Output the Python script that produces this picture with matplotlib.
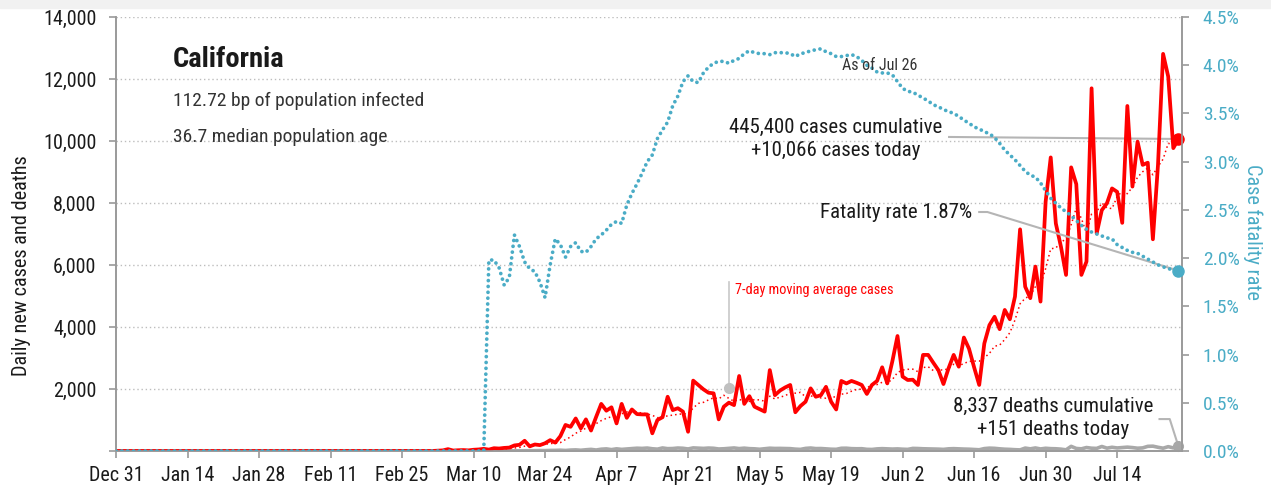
import pandas as pd
import matplotlib
matplotlib.use('Agg')
import matplotlib.pyplot as plt
from matplotlib import font_manager
from matplotlib.patches import Rectangle

# ---- data ----
start = pd.Timestamp('2019-12-31')
first_case_day = pd.Timestamp('2020-03-01')
first_cfr_day = pd.Timestamp('2020-03-13')

# daily new cases, Mar 1 .. Jul 26
cases_mar1 = [
    0, 2, 10, 20, 60, 15, 25, 30, 20, 40,
    50, 70, 45, 90, 80, 100, 110, 180, 200, 330,
    150, 210, 190, 250, 350, 270, 480, 840, 780, 1050,
    730, 1020, 660, 1100, 1520, 1300, 1410, 890, 1520, 1070,
    1340, 1190, 1180, 1180, 570, 1000, 1090, 1750, 1320, 1380,
    1270, 620, 2270, 2130, 1990, 1880, 1860, 1020, 1430, 1560,
    1480, 2420, 1520, 1770, 1430, 1350, 1270, 2610, 1800, 1950,
    2050, 2130, 1250, 1450, 1590, 2020, 1750, 1800, 2070, 1590,
    1340, 2260, 2180, 2260, 2200, 2130, 1840, 2130, 2260, 2700,
    2180, 2900, 3710, 2400, 2290, 2300, 2130, 3100, 3100, 2850,
    2610, 2160, 2670, 3100, 2720, 3660, 3300, 2700, 2130, 3470,
    4060, 4330, 3930, 4550, 4250, 4980, 7150, 5300, 4930, 5950,
    4820, 8040, 9470, 7340, 6590, 5680, 9150, 8610, 5680, 6110,
    11700, 7020, 7770, 7990, 8470, 8360, 7360, 11130, 8530, 9980,
    9230, 9300, 6830, 9230, 12810, 12080, 9770, 10066,
]

# daily new deaths, Mar 1 .. Jul 26
deaths_mar1 = [
    0, 0, 0, 1, 0, 0, 0, 0, 1, 1,
    1, 2, 1, 2, 2, 3, 4, 3, 5, 8,
    5, 10, 14, 12, 18, 20, 26, 17, 30, 36,
    24, 40, 52, 32, 58, 68, 45, 70, 52, 66,
    78, 90, 84, 95, 72, 60, 98, 76, 80, 96,
    88, 66, 100, 92, 84, 95, 88, 65, 72, 86,
    98, 78, 92, 76, 70, 56, 74, 90, 82, 84,
    80, 76, 60, 52, 84, 96, 78, 80, 70, 58,
    54, 88, 90, 76, 72, 74, 54, 50, 68, 76,
    70, 62, 68, 58, 52, 84, 80, 72, 68, 66,
    60, 52, 70, 76, 68, 62, 58, 50, 40, 78,
    92, 86, 70, 58, 52, 42, 36, 94, 70, 98,
    66, 88, 76, 72, 60, 38, 150, 82, 70, 112,
    90, 84, 146, 92, 120, 98, 112, 124, 110, 90,
    100, 150, 156, 120, 90, 140, 100, 151,
]

# case fatality rate (%), Mar 13 .. Jul 26
cfr_mar13 = [
    1.98, 1.98, 1.90, 1.72, 1.80, 2.24, 2.12, 1.96,
    1.89, 1.86, 1.75, 1.59, 1.93, 2.20, 2.14, 2.01, 2.12, 2.16,
    2.07, 2.06, 2.12, 2.20, 2.24, 2.29, 2.35, 2.38, 2.36, 2.55,
    2.67, 2.77, 2.88, 3.00, 3.07, 3.24, 3.33, 3.41, 3.58, 3.68,
    3.83, 3.89, 3.83, 3.82, 3.92, 3.98, 4.02, 4.04, 4.04, 4.02,
    4.05, 4.07, 4.12, 4.15, 4.13, 4.12, 4.12, 4.11, 4.13, 4.13,
    4.13, 4.12, 4.09, 4.12, 4.13, 4.15, 4.16, 4.17, 4.14, 4.12,
    4.09, 4.09, 4.10, 4.11, 4.09, 4.05, 4.00, 3.97, 3.93, 3.92,
    3.92, 3.90, 3.83, 3.76, 3.73, 3.72, 3.69, 3.66, 3.63, 3.59,
    3.57, 3.54, 3.52, 3.50, 3.47, 3.43, 3.40, 3.36, 3.34, 3.31,
    3.29, 3.25, 3.19, 3.12, 3.07, 3.02, 2.96, 2.90, 2.86, 2.84,
    2.78, 2.70, 2.62, 2.57, 2.52, 2.48, 2.44, 2.39, 2.34, 2.30,
    2.27, 2.25, 2.23, 2.21, 2.20, 2.14, 2.11, 2.08, 2.06, 2.05,
    2.02, 1.99, 1.96, 1.93, 1.91, 1.89, 1.88, 1.87,
]

cum_cases = 445400
cum_deaths = 8337
population_bp = 112.72
median_age = 36.7

# ---- font: prefer a condensed face ----
def pick_font():
    entries = font_manager.fontManager.ttflist
    names = {f.name for f in entries}
    for nm in ['Roboto Condensed', 'Liberation Sans Narrow', 'Open Sans Condensed']:
        if nm in names:
            return nm, 'normal'
    for nm in ['Noto Sans', 'Open Sans', 'DejaVu Sans', 'Roboto']:
        for f in entries:
            if f.name == nm and 'condensed' in str(f.stretch):
                return nm, f.stretch
    return 'Roboto', 'normal'

FONT, STRETCH = pick_font()
plt.rcParams['font.family'] = [FONT, 'DejaVu Sans']
plt.rcParams['font.stretch'] = STRETCH

# ---- build series ----
dates = pd.date_range(start, '2020-07-26', freq='D')
cases = pd.Series(0.0, index=dates)
cases[first_case_day:] = cases_mar1
deaths = pd.Series(0.0, index=dates)
deaths[first_case_day:] = deaths_mar1
cfr = pd.Series(0.0, index=dates)
cfr[first_cfr_day:] = cfr_mar13
ma7 = cases.rolling(7, min_periods=1).mean()

RED = '#ff0000'
TEAL = '#4aacc6'
GRAY = '#a8a8a8'
AXC = '#9a9a9a'
TXT = '#1a1a1a'

W, H = 1271, 491
fig = plt.figure(figsize=(W / 100, H / 100), dpi=100)
fig.patches.append(Rectangle((0, 1 - 8 / H), 1, 8 / H, transform=fig.transFigure,
                             color='#f1f1f1', zorder=0))
ax = fig.add_axes([116 / W, 1 - 451 / H, (1182 - 116) / W, (451 - 17) / H])
ax2 = ax.twinx()

def px(x, y):
    return x / W, 1 - y / H

# grid
ax.set_ylim(0, 14000)
ax.set_yticks(range(0, 14001, 2000))
ax.yaxis.grid(True, linestyle=(0, (1, 2)), color='#bdbdbd', lw=1)
ax.set_axisbelow(True)

# lines
ax.plot(dates, deaths, color=GRAY, lw=2.6, solid_capstyle='round', zorder=3)
ax.plot(dates, ma7, color=RED, lw=1.1, linestyle=(0, (1, 2)), zorder=4)
ax.plot(dates, cases, color=RED, lw=2.7, solid_joinstyle='round', zorder=5)
ax2.plot(dates, cfr, color=TEAL, lw=2.7, linestyle=(0, (0.01, 1.55)),
         dash_capstyle='round', zorder=4)

# end markers
ax.plot(dates[-1], cases.iloc[-1], 'o', color=RED, ms=8, zorder=6, clip_on=False)
ax.plot(dates[-1], deaths.iloc[-1], 'o', color=GRAY, ms=7, zorder=6, clip_on=False)
ax2.plot(dates[-1], cfr.iloc[-1], 'o', color=TEAL, ms=8, zorder=6, clip_on=False)

# x axis
xmax = start + pd.Timedelta(days=208.7)
ax.set_xlim(start, xmax)
ticks = pd.date_range(start, '2020-07-26', freq='14D')
ax.set_xticks(ticks)
ax.set_xticklabels([f'{d:%b} {d.day}' for d in ticks])

ax2.set_ylim(0, 4.5)
ax2.set_yticks([i * 0.5 for i in range(10)])
ax2.set_yticklabels([f'{i * 0.5:.1f}%' for i in range(10)])

for a in (ax, ax2):
    a.spines['top'].set_visible(False)
    for s in ['left', 'right', 'bottom']:
        a.spines[s].set_color(AXC)
        a.spines[s].set_linewidth(1.2)
ax.tick_params(axis='both', colors=AXC, width=1.2, length=5, labelsize=14.5, labelcolor=TXT)
ax.tick_params(axis='x', pad=6)
ax.tick_params(axis='y', pad=9)
ax2.tick_params(axis='y', colors=AXC, width=1.2, length=5, labelsize=14, labelcolor=TEAL, pad=10)
ax.yaxis.set_major_formatter(plt.FuncFormatter(lambda v, p: f'{int(v):,}' if v else ''))

ax.set_ylabel('Daily new cases and deaths', fontsize=14.6, color=TXT)
ax.yaxis.set_label_coords(-0.080, 0.426)
ax2.set_ylabel('Case fatality rate', fontsize=14.6, color=TEAL, rotation=270, va='center')
ax2.yaxis.set_label_coords(1.066, 0.505)

# titles
fig.text(*px(173, 60), 'California', fontsize=20.5, fontweight='bold', color=TXT,
         va='center', ha='left')
fig.text(*px(173, 101), f'{population_bp} bp of population infected', fontsize=14,
         color='#333333', va='center', ha='left')
fig.text(*px(173, 137), f'{median_age} median population age', fontsize=14,
         color='#333333', va='center', ha='left')
fig.text(*px(880, 66), f'As of {dates[-1]:%b} {dates[-1].day}', fontsize=11.5,
         color='#333333', va='center', ha='center')

# cases annotation
fig.text(*px(836, 139), f'{cum_cases:,} cases cumulative\n+{int(cases.iloc[-1]):,} cases today',
         fontsize=15, color=TXT, va='center', ha='center', linespacing=1.25)
ax.plot([start + pd.Timedelta(days=163.1), dates[-1]], [10130, cases.iloc[-1]],
        color='#b5b5b5', lw=1.5, zorder=2)

# fatality annotation
fig.text(*px(896, 213), f'Fatality rate {cfr.iloc[-1]:.2f}%', fontsize=15, color=TXT,
         va='center', ha='center')
ax2.plot([start + pd.Timedelta(days=169), start + pd.Timedelta(days=170.6), dates[-1]],
         [2.478, 2.478, cfr.iloc[-1]], color='#b5b5b5', lw=1.5, zorder=3)

# deaths annotation
fig.text(*px(1053, 418), f'{cum_deaths:,} deaths cumulative\n+{int(deaths.iloc[-1])} deaths today',
         fontsize=15, color=TXT, va='center', ha='center', linespacing=1.25)
ax.plot([start + pd.Timedelta(days=204.3), start + pd.Timedelta(days=206.3), dates[-1]],
        [1030, 1030, deaths.iloc[-1]], color='#b5b5b5', lw=1.5, zorder=2)

# moving-average label
ma_day = start + pd.Timedelta(days=120)
ax.plot([ma_day, ma_day], [5450, 2030], color='#c8c8c8', lw=1.2, zorder=2)
ax.plot(ma_day, 2030, 'o', color='#c0c0c0', ms=7, zorder=6)
fig.text(*px(735, 290), '7-day moving average cases', fontsize=10.3, color=RED,
         va='center', ha='left')

fig.savefig('out.png', dpi=100)
